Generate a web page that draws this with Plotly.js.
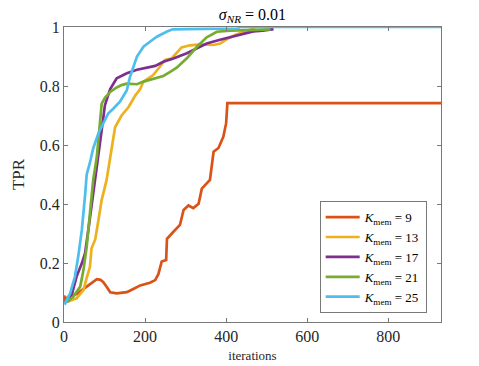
<!DOCTYPE html>
<html>
<head>
<meta charset="utf-8">
<script src="https://cdn.plot.ly/plotly-3.0.1.min.js"></script>
<style>
  body { margin: 0; background: #fff; }
  #graph { width: 479px; height: 366px; }
</style>
</head>
<body>
<div id="graph"></div>
<script>
// values
var k9X = [0, 3, 10, 31, 56, 81, 90, 97, 106, 114, 130, 155, 171, 188, 212, 225, 233, 241, 252, 254, 270, 286, 295, 307, 319, 332, 340, 352, 360, 369, 381, 393, 400, 403, 930];
var k9Y = [0.09, 0.078, 0.085, 0.095, 0.12, 0.145, 0.143, 0.135, 0.118, 0.101, 0.097, 0.101, 0.112, 0.124, 0.133, 0.142, 0.163, 0.205, 0.21, 0.282, 0.306, 0.329, 0.38, 0.395, 0.386, 0.401, 0.452, 0.47, 0.482, 0.577, 0.59, 0.628, 0.674, 0.742, 0.742];

var k13X = [0, 10, 31, 48, 56, 64, 68, 77, 85, 93, 105, 114, 122, 126, 142, 159, 175, 188, 196, 220, 237, 249, 266, 278, 290, 311, 336, 369, 385, 402, 422, 443, 460, 472];
var k13Y = [0.068, 0.07, 0.08, 0.108, 0.15, 0.187, 0.25, 0.28, 0.346, 0.414, 0.481, 0.561, 0.628, 0.66, 0.70, 0.728, 0.766, 0.79, 0.815, 0.837, 0.866, 0.888, 0.894, 0.912, 0.931, 0.938, 0.941, 0.939, 0.944, 0.959, 0.973, 0.984, 0.99, 0.996];

var k17X = [0, 10, 19, 31, 44, 52, 60, 68, 77, 85, 93, 101, 114, 130, 155, 180, 204, 225, 245, 270, 303, 328, 352, 385, 418, 451, 467, 490, 517];
var k17Y = [0.068, 0.072, 0.092, 0.154, 0.199, 0.233, 0.312, 0.39, 0.48, 0.561, 0.651, 0.735, 0.79, 0.826, 0.843, 0.855, 0.861, 0.868, 0.882, 0.893, 0.911, 0.928, 0.944, 0.957, 0.968, 0.979, 0.985, 0.988, 0.993];

var k21X = [0, 10, 23, 40, 48, 56, 64, 72, 81, 89, 93, 101, 114, 130, 142, 155, 180, 196, 212, 245, 262, 278, 303, 328, 352, 377, 410, 460, 509];
var k21Y = [0.066, 0.07, 0.086, 0.12, 0.176, 0.255, 0.368, 0.481, 0.561, 0.674, 0.74, 0.76, 0.78, 0.795, 0.803, 0.808, 0.806, 0.815, 0.822, 0.834, 0.848, 0.862, 0.894, 0.933, 0.965, 0.984, 0.988, 0.99, 0.992];

var k25X = [0, 3, 15, 27, 35, 44, 52, 56, 64, 72, 85, 97, 109, 122, 138, 155, 163, 180, 196, 212, 229, 253, 268, 300, 430, 432, 930];
var k25Y = [0.066, 0.063, 0.097, 0.154, 0.221, 0.312, 0.43, 0.50, 0.54, 0.589, 0.64, 0.674, 0.707, 0.724, 0.747, 0.786, 0.832, 0.90, 0.933, 0.95, 0.967, 0.984, 0.992, 0.993, 0.995, 1, 1];

var names = ['9', '13', '17', '21', '25'];
var colors = ['#D95319', '#EDB120', '#7E2F8E', '#77AC30', '#4DBEEE'];
var xTicks = [0, 200, 400, 600, 800];
var yTicks = [0, 0.2, 0.4, 0.6, 0.8, 1];
var yTickText = ['0', '0.2', '0.4', '0.6', '0.8', '1'];

var xs = [k9X, k13X, k17X, k21X, k25X];
var ys = [k9Y, k13Y, k17Y, k21Y, k25Y];

var traces = [];
for (var i = 0; i < xs.length; i++) {
    traces.push({
        x: xs[i],
        y: ys[i],
        mode: 'lines',
        line: {color: colors[i], width: 2.7},
        name: '<i>K</i><sub>mem</sub> = ' + names[i]
    });
}

var axisColor = 'rgb(120,120,120)';
var serif = '"Liberation Serif", "DejaVu Serif", serif';

var layout = {
    width: 479,
    height: 366,
    margin: {l: 64, r: 38, t: 27, b: 44},
    paper_bgcolor: '#fff',
    plot_bgcolor: '#fff',
    font: {family: serif, size: 14, color: '#262626'},
    showlegend: true,
    title: {
        text: '<i>σ</i><sub><i>NR</i></sub> = 0.01',
        font: {family: serif, size: 16, color: '#000'},
        x: 0.527, xref: 'container',
        y: 0.962, yref: 'container', yanchor: 'middle'
    },
    xaxis: {
        range: [0, 930],
        tickvals: xTicks,
        ticks: 'inside',
        ticklen: 4,
        tickcolor: axisColor,
        showline: true,
        linecolor: axisColor,
        linewidth: 1,
        mirror: 'ticks',
        showgrid: false,
        zeroline: false,
        tickfont: {family: serif, size: 16, color: '#262626'},
        title: {text: 'iterations', font: {family: serif, size: 13, color: '#262626'}, standoff: 6}
    },
    yaxis: {
        range: [0, 1],
        tickvals: yTicks,
        ticktext: yTickText,
        ticks: 'inside',
        ticklen: 4,
        tickcolor: axisColor,
        showline: true,
        linecolor: axisColor,
        linewidth: 1,
        mirror: 'ticks',
        showgrid: false,
        zeroline: false,
        tickfont: {family: serif, size: 16, color: '#262626'},
        title: {text: 'TPR', font: {family: serif, size: 17, color: '#262626'}, standoff: 10}
    },
    legend: {
        x: 0.962, xanchor: 'right',
        y: 0.03, yanchor: 'bottom',
        bgcolor: '#fff',
        bordercolor: axisColor,
        borderwidth: 1,
        tracegroupgap: 0,
        font: {family: serif, size: 13, color: '#000'},
        itemwidth: 34
    }
};

Plotly.newPlot('graph', traces, layout, {staticPlot: true});
</script>
</body>
</html>
